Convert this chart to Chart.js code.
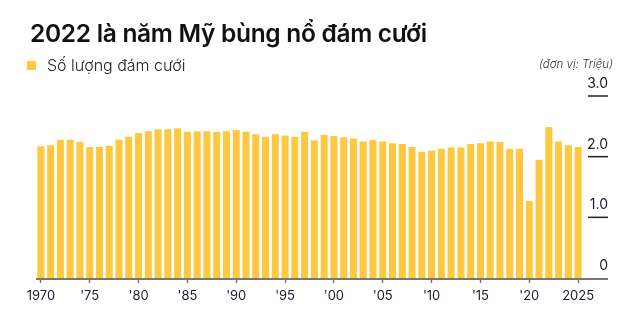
<!DOCTYPE html>
<html lang="vi">
<head>
<meta charset="utf-8">
<script src="https://cdn.jsdelivr.net/npm/chart.js@4"></script>
<style>
    html, body { margin: 0; padding: 0; background: #fff; }
    #wrap { position: relative; width: 640px; height: 335px; font-family: Inter, "Noto Sans", sans-serif; }
    #title { position: absolute; left: 30px; top: 18px; font-size: 24.5px; font-weight: 600; color: #111; letter-spacing: -0.3px; white-space: nowrap; }
    #legend { position: absolute; left: 27px; top: 55px; font-size: 16px; font-weight: 300; color: #222; white-space: nowrap; }
    #legend span.box { display: inline-block; width: 9px; height: 9px; background: #FEC941; margin-right: 11px; vertical-align: 1px; }
    #unit { position: absolute; right: 27px; top: 57px; font-size: 11.5px; font-style: italic; font-weight: 300; color: #333; }
    canvas { position: absolute; left: 0; top: 0; }
</style>
</head>
<body>
<div id="wrap">
    <canvas id="weddingChart" width="640" height="335"></canvas>
    <div id="title">2022 là năm Mỹ bùng nổ đám cưới</div>
    <div id="legend"><span class="box"></span>Số lượng đám cưới</div>
    <div id="unit">(đơn vị: Triệu)</div>
</div>
<script>
// Years 1970 - 2025
const years = [
    1970, 1971, 1972, 1973, 1974, 1975, 1976, 1977, 1978, 1979,
    1980, 1981, 1982, 1983, 1984, 1985, 1986, 1987, 1988, 1989,
    1990, 1991, 1992, 1993, 1994, 1995, 1996, 1997, 1998, 1999,
    2000, 2001, 2002, 2003, 2004, 2005, 2006, 2007, 2008, 2009,
    2010, 2011, 2012, 2013, 2014, 2015, 2016, 2017, 2018, 2019,
    2020, 2021, 2022, 2023, 2024, 2025
];

// Weddings per year, millions
const weddings = [
    2.17, 2.19, 2.28, 2.28, 2.24, 2.16, 2.16, 2.18, 2.28, 2.33,
    2.39, 2.42, 2.45, 2.45, 2.47, 2.41, 2.42, 2.42, 2.41, 2.42,
    2.44, 2.41, 2.37, 2.33, 2.37, 2.35, 2.33, 2.41, 2.27, 2.36,
    2.34, 2.32, 2.30, 2.25, 2.28, 2.25, 2.22, 2.21, 2.16, 2.08,
    2.10, 2.13, 2.15, 2.15, 2.21, 2.22, 2.25, 2.24, 2.13, 2.13,
    1.27, 1.95, 2.49, 2.25, 2.19, 2.16
];

const yTicks = [0, 1, 2, 3];
const yTickLabels = ['0', '1.0', '2.0', '3.0'];

const barColor = '#FEC941';
const inkColor = '#1c1c30';
const axisColor = '#777';

function yearLabel(year, index) {
    if (index === 0 || index === years.length - 1) return String(year);
    return "'" + String(year).slice(2);
}

// Baseline that runs past the last bar, plus the right-hand value labels
const axisDecor = {
    id: 'axisDecor',
    afterDatasetsDraw(chart) {
        const { ctx, chartArea, scales } = chart;
        const y = scales.y;
        const lineLeft = 588, lineRight = 608;

        ctx.save();
        ctx.strokeStyle = axisColor;
        ctx.lineWidth = 2;
        ctx.beginPath();
        ctx.moveTo(chartArea.left, y.getPixelForValue(0) + 1);
        ctx.lineTo(lineRight, y.getPixelForValue(0) + 1);
        ctx.stroke();

        ctx.font = '14px Inter, "Noto Sans", sans-serif';
        ctx.fillStyle = inkColor;
        ctx.textAlign = 'right';
        ctx.textBaseline = 'alphabetic';
        yTicks.forEach((v, i) => {
            const py = y.getPixelForValue(v);
            if (v > 0) {
                ctx.strokeStyle = '#222';
                ctx.lineWidth = 1.5;
                ctx.beginPath();
                ctx.moveTo(lineLeft, py);
                ctx.lineTo(lineRight, py);
                ctx.stroke();
            }
            ctx.fillText(yTickLabels[i], lineRight, py - 8);
        });
        ctx.restore();
    }
};

const ctx = document.getElementById('weddingChart').getContext('2d');

new Chart(ctx, {
    type: 'bar',
    data: {
        labels: years,
        datasets: [{
            label: 'Số lượng đám cưới',
            data: weddings,
            backgroundColor: barColor,
            borderWidth: 0,
            barPercentage: 0.72,
            categoryPercentage: 1.0
        }]
    },
    options: {
        responsive: false,
        animation: false,
        layout: {
            padding: { left: 36, right: 57, top: 96, bottom: 0 }
        },
        plugins: {
            legend: { display: false },
            tooltip: { enabled: false }
        },
        scales: {
            x: {
                offset: true,
                border: { display: false },
                grid: {
                    offset: false,
                    drawOnChartArea: false,
                    drawTicks: true,
                    tickLength: 5,
                    tickWidth: 1.5,
                    tickColor: c => (c.index % 5 === 0 ? axisColor : 'rgba(0,0,0,0)')
                },
                ticks: {
                    autoSkip: false,
                    maxRotation: 0,
                    padding: 5,
                    color: inkColor,
                    font: { family: 'Inter, "Noto Sans", sans-serif', size: 13 },
                    callback: function(value, index) {
                        return index % 5 === 0 ? yearLabel(years[index], index) : '';
                    }
                },
                afterFit: s => { s.height = 57; }
            },
            y: {
                display: false,
                min: 0,
                max: 3
            }
        }
    },
    plugins: [axisDecor]
});
</script>
</body>
</html>
